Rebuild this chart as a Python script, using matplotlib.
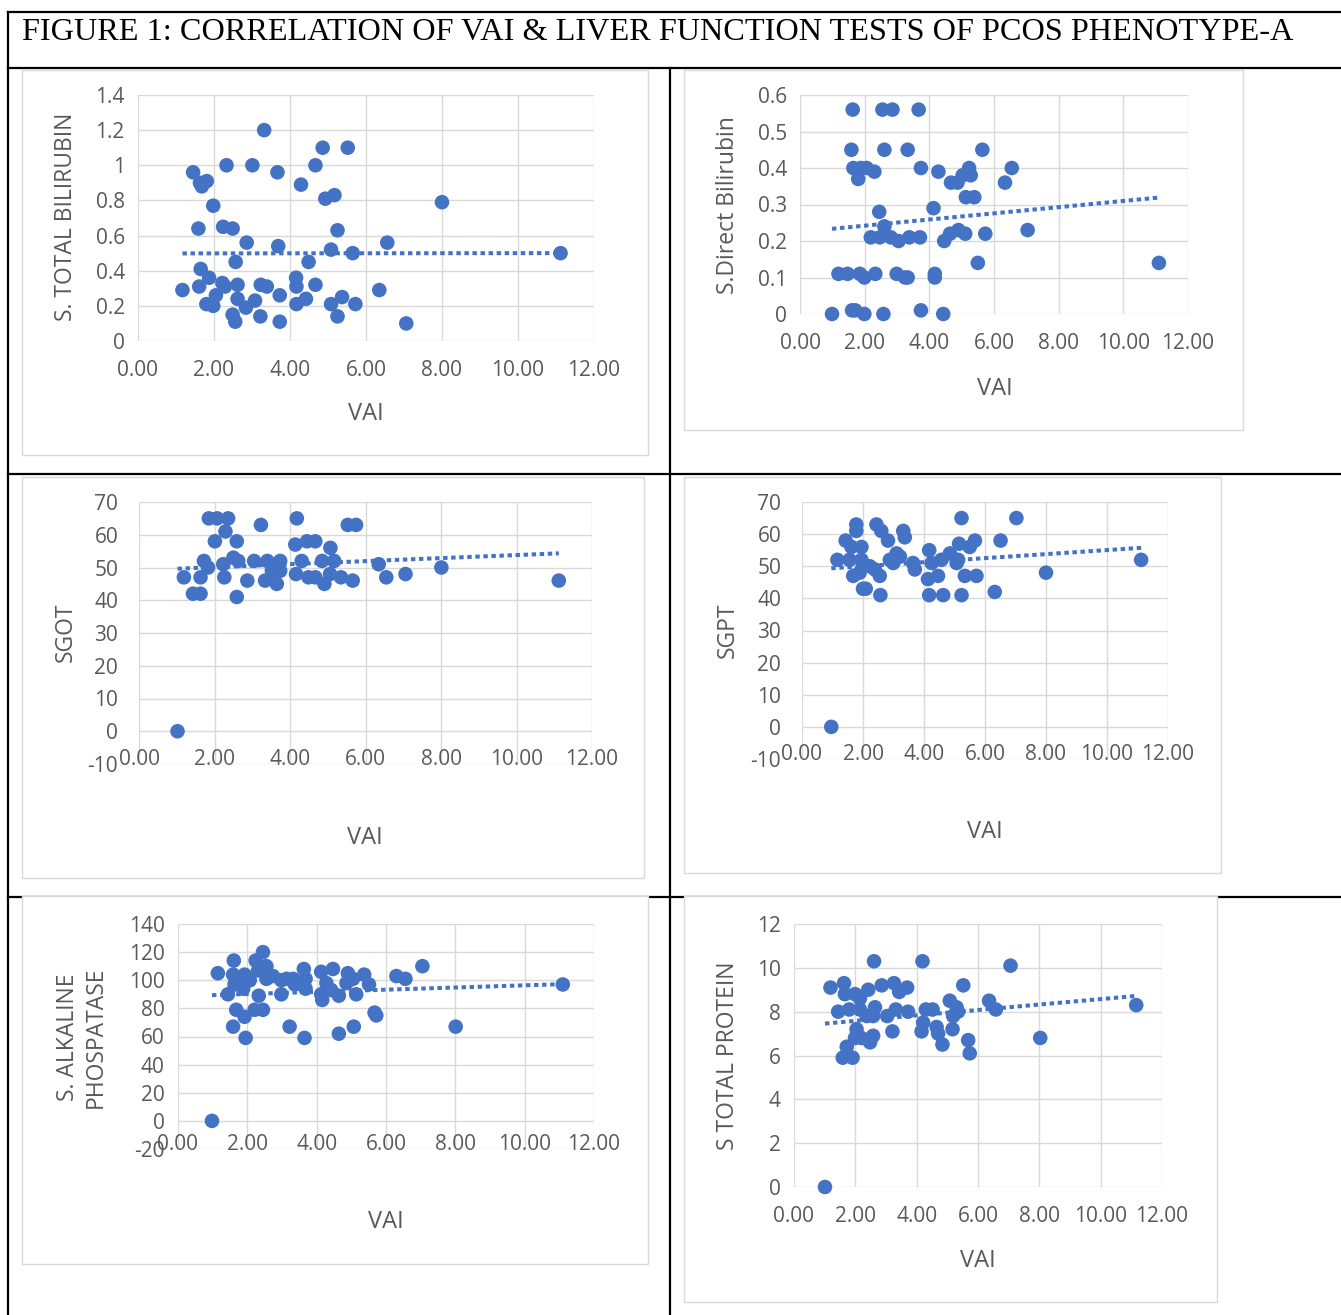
import numpy as np
import matplotlib
matplotlib.use("Agg")
import matplotlib.pyplot as plt
from matplotlib.patches import Rectangle

# figure size in pixels (dpi 100)
W, H = 1341, 1315

TITLE = "FIGURE 1: CORRELATION OF VAI & LIVER FUNCTION TESTS OF PCOS PHENOTYPE-A"

# --- data (VAI vs each liver test) ---
vai_tbil = [3.32, 4.86, 5.52, 1.45, 2.33, 3.01, 3.67, 4.67, 1.63, 1.81, 1.68, 4.29, 4.93, 5.17,
            8.00, 1.98, 1.59, 2.24, 2.49, 5.25, 2.86, 3.69, 5.08, 5.65, 6.56, 11.12, 2.57, 4.49,
            1.65, 1.87, 1.17, 1.61, 2.22, 2.29, 2.62, 3.23, 3.39, 4.16, 4.17, 4.67, 6.35, 2.05,
            3.73, 2.62, 3.08, 4.42, 5.37, 1.80, 1.98, 2.84, 4.17, 5.08, 5.72, 2.49, 2.56, 3.22,
            3.73, 5.25, 7.06]
tbil = [1.20, 1.10, 1.10, 0.96, 1.00, 1.00, 0.96, 1.00, 0.90, 0.91, 0.88, 0.89, 0.81, 0.83,
        0.79, 0.77, 0.64, 0.65, 0.64, 0.63, 0.56, 0.54, 0.52, 0.50, 0.56, 0.50, 0.45, 0.45,
        0.41, 0.36, 0.29, 0.31, 0.33, 0.31, 0.32, 0.32, 0.31, 0.36, 0.31, 0.32, 0.29, 0.26,
        0.26, 0.24, 0.23, 0.24, 0.25, 0.21, 0.20, 0.19, 0.21, 0.21, 0.21, 0.15, 0.11, 0.14,
        0.11, 0.14, 0.10]

vai_dbil = [1.63, 2.55, 2.86, 3.67, 1.59, 2.61, 3.33, 5.64, 1.65, 1.88, 2.06, 2.30, 1.80, 3.74,
            4.28, 4.67, 4.87, 5.03, 5.23, 5.28, 5.13, 5.39, 6.55, 6.34, 2.45, 4.13, 2.61, 2.19,
            2.47, 2.81, 3.05, 3.38, 3.71, 4.46, 4.64, 4.90, 5.11, 5.73, 7.04, 5.50, 11.10, 1.19,
            1.47, 1.85, 1.99, 2.33, 2.99, 3.25, 3.33, 4.17, 4.17, 0.99, 1.61, 1.71, 1.99, 2.58,
            3.74, 4.43]
dbil = [0.56, 0.56, 0.56, 0.56, 0.45, 0.45, 0.45, 0.45, 0.40, 0.40, 0.40, 0.39, 0.37, 0.40,
        0.39, 0.36, 0.36, 0.38, 0.40, 0.38, 0.32, 0.32, 0.40, 0.36, 0.28, 0.29, 0.24, 0.21,
        0.21, 0.21, 0.20, 0.21, 0.21, 0.20, 0.22, 0.23, 0.22, 0.22, 0.23, 0.14, 0.14, 0.11,
        0.11, 0.11, 0.10, 0.11, 0.11, 0.10, 0.10, 0.11, 0.10, 0.00, 0.01, 0.01, 0.00, 0.00,
        0.01, 0.00]

vai_sgot = [1.02, 1.85, 2.07, 2.36, 2.29, 2.01, 2.59, 3.23, 4.18, 4.14, 4.45, 4.67, 5.07, 5.53,
            5.75, 1.72, 1.63, 1.19, 1.43, 1.63, 1.83, 2.23, 2.50, 2.63, 2.26, 2.59, 2.87, 3.05,
            3.40, 3.74, 3.34, 3.65, 3.52, 3.74, 4.16, 4.31, 4.49, 4.67, 4.91, 4.85, 5.17, 5.06,
            5.35, 5.66, 6.35, 6.55, 7.06, 8.01, 11.12]
sgot = [0, 65, 65, 65, 61, 58, 58, 63, 65, 57, 58, 58, 56, 63, 63, 52, 47, 47, 42, 42, 50, 51,
        53, 52, 47, 41, 46, 52, 52, 52, 46, 45, 49, 49, 48, 52, 47, 47, 45, 52, 52, 48, 47, 46,
        51, 47, 48, 50, 46]

vai_sgpt = [0.96, 1.78, 1.78, 2.44, 2.60, 3.32, 2.82, 3.37, 1.43, 1.62, 1.95, 1.16, 1.56, 1.95,
            2.22, 2.39, 2.55, 1.68, 1.89, 2.00, 2.09, 2.57, 2.88, 3.10, 3.21, 2.99, 3.64, 3.70,
            4.17, 4.25, 4.13, 4.46, 4.17, 4.63, 4.57, 4.85, 5.12, 5.07, 5.23, 5.15, 5.50, 5.67,
            5.34, 5.72, 5.23, 6.32, 6.51, 7.03, 8.00, 11.12]
sgpt = [0, 63, 61, 63, 61, 61, 58, 59, 58, 56, 56, 52, 52, 52, 50, 49, 47, 47, 48, 43, 43, 41,
        52, 54, 53, 51, 51, 49, 55, 51, 46, 47, 41, 41, 52, 54, 52, 51, 65, 57, 56, 58, 47, 47,
        41, 42, 58, 65, 48, 52]

vai_alp = [0.98, 1.15, 1.61, 1.44, 1.59, 1.63, 1.78, 1.92, 1.88, 2.07, 1.68, 1.92, 1.59, 1.95,
           2.21, 2.45, 2.33, 2.24, 2.45, 2.31, 2.55, 2.55, 2.74, 2.98, 3.13, 2.98, 3.22, 3.32,
           3.37, 3.63, 3.68, 3.68, 3.65, 4.13, 4.47, 4.13, 4.16, 4.28, 4.42, 4.64, 4.64, 4.90,
           4.86, 5.05, 5.14, 5.07, 5.37, 5.51, 5.67, 5.72, 6.30, 6.56, 7.05, 8.01, 11.10]
alp = [0, 105, 114, 90, 104, 97, 100, 104, 94, 100, 79, 74, 67, 59, 79, 79, 89, 114, 120, 107,
       110, 101, 103, 100, 101, 90, 67, 101, 97, 108, 101, 94, 59, 106, 108, 90, 86, 98, 93, 89,
       62, 105, 98, 101, 90, 67, 104, 97, 77, 75, 103, 101, 110, 67, 97]

vai_tp = [1.01, 1.19, 1.63, 1.66, 1.99, 2.15, 1.44, 1.80, 2.15, 2.42, 2.64, 2.37, 2.58, 2.04,
          1.99, 2.20, 2.58, 2.48, 1.72, 1.59, 1.91, 2.61, 2.86, 3.26, 3.43, 3.69, 3.04, 3.32,
          3.72, 3.21, 4.19, 4.30, 4.52, 4.16, 4.21, 4.65, 4.70, 4.84, 5.08, 5.30, 5.35, 5.19,
          5.17, 5.52, 5.68, 5.73, 6.36, 6.58, 7.06, 8.03, 11.16]
tp = [0, 9.1, 9.3, 8.8, 8.8, 8.6, 8.0, 8.1, 8.1, 9.0, 8.2, 7.8, 7.8, 7.2, 6.8, 6.8, 6.9, 6.6,
      6.4, 5.9, 5.9, 10.3, 9.2, 9.3, 8.9, 9.1, 7.8, 8.1, 8.0, 7.1, 10.3, 8.1, 8.1, 7.1, 7.5,
      7.3, 7.0, 6.5, 8.5, 8.2, 8.0, 7.8, 7.2, 9.2, 6.7, 6.1, 8.5, 8.1, 10.1, 6.8, 8.3]

BLUE = "#4472C4"
GRID = "#d9d9d9"
TXT = "#595959"
FONT = ["Open Sans", "DejaVu Sans"]

fig = plt.figure(figsize=(W / 100, H / 100), dpi=100)

# background canvas in pixel coordinates (y down)
bg = fig.add_axes([0, 0, 1, 1], zorder=0)
bg.set_xlim(0, W)
bg.set_ylim(H, 0)
bg.axis("off")

# table lines
lw_tab = 1.6
for y in [12, 68, 474, 897]:
    bg.plot([8, W], [y, y], color="black", lw=lw_tab, zorder=1)
bg.plot([8, 8], [12, H], color="black", lw=lw_tab, zorder=1)
bg.plot([670, 670], [68, H], color="black", lw=lw_tab, zorder=1)

bg.text(22, 32, TITLE, family=["Liberation Serif"], fontsize=23.2, va="center", ha="left")

# chart frames (left, top, right, bottom)
frames = [(22, 70, 648, 455), (684, 70, 1243, 430), (22, 477, 644, 878),
          (684, 477, 1221, 873), (22, 896, 648, 1264), (684, 896, 1217, 1302)]
for l, t, r, b in frames:
    bg.add_patch(Rectangle((l, t), r - l, b - t, facecolor="white", edgecolor=GRID, lw=1.0, zorder=2))


def fmt(v):
    v = round(v, 6)
    return f"{v:g}"


def panel(x, y, box, ylo, yhi, ystep, ylabel, ylab_xy, xlab_xy, xpad, ypad):
    l, t, r, b = box
    ax = fig.add_axes([l / W, 1 - b / H, (r - l) / W, (b - t) / H], zorder=3)
    ax.patch.set_alpha(0)
    ax.set_xlim(0, 12)
    ax.set_ylim(ylo, yhi)
    xt = np.arange(0, 12.01, 2)
    yt = np.arange(ylo, yhi + ystep / 2, ystep)
    ax.set_xticks(xt)
    ax.set_xticklabels([f"{v:.2f}" for v in xt])
    ax.set_yticks(yt)
    ax.set_yticklabels([fmt(v) for v in yt])
    for s in ax.spines.values():
        s.set_visible(False)
    ax.grid(True, color=GRID, lw=1.0, zorder=0)
    ax.set_axisbelow(True)
    ax.tick_params(length=0, labelsize=15, labelcolor=TXT)
    ax.tick_params(axis="x", pad=xpad)
    ax.tick_params(axis="y", pad=ypad)
    for lab in ax.get_xticklabels() + ax.get_yticklabels():
        lab.set_family(FONT)

    # linear trend line (dotted), like the Excel one
    xa = np.array(x)
    ya = np.array(y)
    k, c = np.polyfit(xa, ya, 1)
    xs = np.array([xa.min(), xa.max()])
    ax.plot(xs, k * xs + c, color=BLUE, lw=2.9, ls=(0, (1.1, 0.9)),
            dash_capstyle="butt", zorder=2, clip_on=False)
    ax.scatter(xa, ya, s=110, color=BLUE, edgecolors="none", zorder=3, clip_on=False)

    bg.text(ylab_xy[0], ylab_xy[1], ylabel, rotation=90, ha="center", va="center",
            fontsize=16.5, color=TXT, family=FONT, linespacing=1.2, zorder=5)
    bg.text(xlab_xy[0], xlab_xy[1], "VAI", ha="center", va="center",
            fontsize=17, color=TXT, family=FONT, zorder=5)
    return ax


panel(vai_tbil, tbil, (138, 95, 594, 341), 0, 1.4, 0.2, "S. TOTAL BILIRUBIN",
      (66, 217), (366, 414), 13.5, 9.5)
panel(vai_dbil, dbil, (800, 95, 1188, 314), 0, 0.6, 0.1, "S.Direct Bilirubin",
      (728, 205), (995, 389), 13.5, 9.5)
panel(vai_sgot, sgot, (139, 502, 592, 764), -10, 70, 10, "SGOT",
      (66, 632), (365, 838), -11, 15)
panel(vai_sgpt, sgpt, (802, 502, 1168, 759), -10, 70, 10, "SGPT",
      (728, 630), (985, 832), -11, 15)
panel(vai_alp, alp, (178, 924, 594, 1149), -20, 140, 20, "S. ALKALINE\nPHOSPATASE",
      (82, 1037), (386, 1222), -11, 9.5)
panel(vai_tp, tp, (794, 924, 1162, 1187), 0, 12, 2, "S TOTAL PROTEIN",
      (728, 1056), (978, 1261), 13.5, 9.5)

fig.savefig("out.png", dpi=100)
